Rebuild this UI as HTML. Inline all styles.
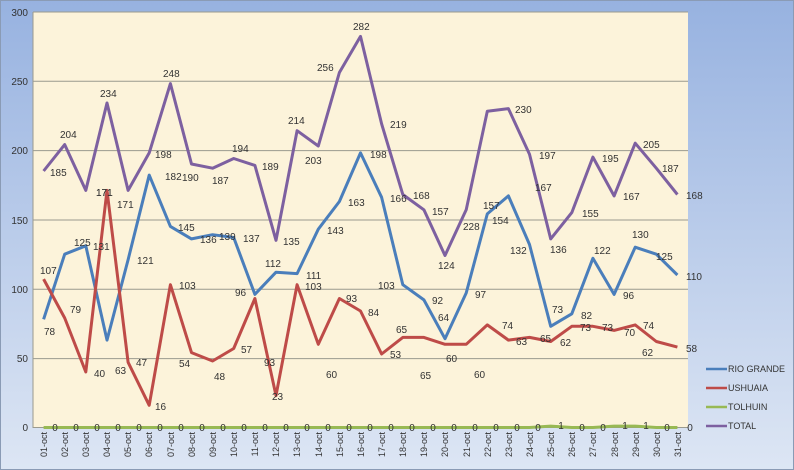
<!DOCTYPE html>
<html><head><meta charset="utf-8"><style>
html,body{margin:0;padding:0;width:794px;height:470px;overflow:hidden}
svg{display:block}
text{font-family:"Liberation Sans",sans-serif}
</style></head><body>
<svg width="794" height="470" viewBox="0 0 794 470" xmlns="http://www.w3.org/2000/svg">
<defs>
<linearGradient id="bg" x1="0" y1="0" x2="0" y2="1">
<stop offset="0" stop-color="#97b2e0"/><stop offset="1" stop-color="#dde6f4"/>
</linearGradient>
</defs>
<rect x="0" y="0" width="794" height="470" fill="url(#bg)"/>
<rect x="0.5" y="0.5" width="793" height="469" fill="none" stroke="#8a9bb5"/>
<rect x="33" y="12" width="655" height="416" fill="#fcf3da"/>
<g stroke="#9a9a8e" stroke-width="1">
<line x1="33" y1="12" x2="688" y2="12"/>
<line x1="33" y1="81.3" x2="688" y2="81.3"/>
<line x1="33" y1="150.6" x2="688" y2="150.6"/>
<line x1="33" y1="220" x2="688" y2="220"/>
<line x1="33" y1="289.3" x2="688" y2="289.3"/>
<line x1="33" y1="358.6" x2="688" y2="358.6"/>
<line x1="33" y1="427.5" x2="688" y2="427.5"/>
<line x1="33" y1="12" x2="33" y2="428"/>
</g>
<g font-size="10" fill="#333" text-anchor="end">
<text x="28" y="16">300</text><text x="28" y="85">250</text><text x="28" y="154">200</text>
<text x="28" y="224">150</text><text x="28" y="293">100</text><text x="28" y="362">50</text><text x="28" y="431">0</text>
</g>
<g fill="none" stroke-width="3" stroke-linejoin="round">
<polyline stroke="#4a7ebb" points="43.6,319.3 64.7,254.2 85.8,245.8 107,340.1 128.1,259.7 149.2,175.1 170.4,226.4 191.5,238.9 212.6,234.7 233.7,237.5 254.9,294.4 276,272.2 297.1,273.6 318.3,229.2 339.4,201.5 360.5,152.9 381.6,197.3 402.8,284.7 423.9,299.9 445,338.7 466.2,293 487.3,213.9 508.4,195.9 529.5,244.5 550.7,326.3 571.8,313.8 592.9,258.3 614.1,294.4 635.2,247.2 656.3,254.2 677.4,275"/>
<polyline stroke="#be4b48" points="43.6,279.1 64.7,318 85.8,372 107,190.4 128.1,362.3 149.2,405.3 170.4,284.7 191.5,352.6 212.6,361 233.7,348.5 254.9,298.5 276,395.6 297.1,284.7 318.3,344.3 339.4,298.5 360.5,311 381.6,354 402.8,337.4 423.9,337.4 445,344.3 466.2,344.3 487.3,324.9 508.4,340.1 529.5,337.4 550.7,341.5 571.8,326.3 592.9,326.3 614.1,330.4 635.2,324.9 656.3,341.5 677.4,347.1"/>
<polyline stroke="#98b954" points="43.6,427.5 64.7,427.5 85.8,427.5 107,427.5 128.1,427.5 149.2,427.5 170.4,427.5 191.5,427.5 212.6,427.5 233.7,427.5 254.9,427.5 276,427.5 297.1,427.5 318.3,427.5 339.4,427.5 360.5,427.5 381.6,427.5 402.8,427.5 423.9,427.5 445,427.5 466.2,427.5 487.3,427.5 508.4,427.5 529.5,427.5 550.7,426.1 571.8,427.5 592.9,427.5 614.1,426.1 635.2,426.1 656.3,427.5 677.4,427.5"/>
<polyline stroke="#7d60a0" points="43.6,171 64.7,144.6 85.8,190.4 107,103 128.1,190.4 149.2,152.9 170.4,83.6 191.5,164 212.6,168.2 233.7,158.5 254.9,165.4 276,240.3 297.1,130.7 318.3,146 339.4,72.5 360.5,36.4 381.6,123.8 402.8,194.5 423.9,209.8 445,255.5 466.2,209.8 487.3,111.3 508.4,108.6 529.5,154.3 550.7,238.9 571.8,212.6 592.9,157.1 614.1,195.9 635.2,143.2 656.3,168.2 677.4,194.5"/>
</g>
<g font-size="10" fill="#333">
<text x="50" y="176">185</text><text x="60" y="138">204</text><text x="96" y="196">171</text><text x="100" y="97">234</text>
<text x="117" y="208">171</text><text x="155" y="158">198</text><text x="163" y="77">248</text><text x="182" y="181">190</text>
<text x="212" y="184">187</text><text x="232" y="152">194</text><text x="262" y="170">189</text><text x="283" y="245">135</text>
<text x="288" y="124">214</text><text x="305" y="164">203</text><text x="317" y="71">256</text><text x="353" y="30">282</text>
<text x="390" y="128">219</text><text x="413" y="199">168</text><text x="432" y="215">157</text><text x="438" y="269">124</text>
<text x="463" y="230">228</text><text x="515" y="113">230</text><text x="539" y="159">197</text><text x="550" y="253">136</text>
<text x="582" y="217">155</text><text x="602" y="162">195</text><text x="623" y="200">167</text><text x="643" y="148">205</text>
<text x="662" y="172">187</text><text x="686" y="199">168</text>
<text x="44" y="335">78</text><text x="74" y="246">125</text><text x="93" y="250">131</text><text x="115" y="374">63</text>
<text x="137" y="264">121</text><text x="165" y="180">182</text><text x="178" y="231">145</text><text x="200" y="243">136</text>
<text x="219" y="240">139</text><text x="243" y="242">137</text><text x="235" y="296">96</text><text x="265" y="267">112</text>
<text x="306" y="279">111</text><text x="327" y="234">143</text><text x="348" y="206">163</text><text x="370" y="158">198</text>
<text x="390" y="202">166</text><text x="378" y="289">103</text><text x="432" y="304">92</text><text x="438" y="321">64</text>
<text x="475" y="298">97</text><text x="483" y="209">157</text><text x="492" y="224">154</text><text x="535" y="191">167</text>
<text x="510" y="254">132</text><text x="552" y="313">73</text><text x="581" y="319">82</text><text x="594" y="254">122</text>
<text x="623" y="299">96</text><text x="632" y="238">130</text><text x="656" y="260">125</text><text x="686" y="280">110</text>
<text x="40" y="274">107</text><text x="70" y="313">79</text><text x="94" y="377">40</text><text x="96" y="196">171</text>
<text x="136" y="366">47</text><text x="155" y="410">16</text><text x="179" y="289">103</text><text x="179" y="367">54</text>
<text x="214" y="380">48</text><text x="241" y="353">57</text><text x="264" y="366">93</text><text x="272" y="400">23</text>
<text x="305" y="290">103</text><text x="326" y="378">60</text><text x="346" y="302">93</text><text x="368" y="316">84</text>
<text x="390" y="358">53</text><text x="396" y="333">65</text><text x="420" y="379">65</text><text x="446" y="362">60</text>
<text x="474" y="378">60</text><text x="502" y="329">74</text><text x="516" y="345">63</text><text x="540" y="342">65</text>
<text x="560" y="346">62</text><text x="580" y="331">73</text><text x="602" y="331">73</text><text x="624" y="336">70</text>
<text x="643" y="329">74</text><text x="642" y="356">62</text><text x="686" y="352">58</text>
</g>
<g font-size="10" fill="#333" text-anchor="middle">
<text x="55" y="431">0</text><text x="76" y="431">0</text><text x="97" y="431">0</text><text x="118" y="431">0</text>
<text x="139" y="431">0</text><text x="160" y="431">0</text><text x="181" y="431">0</text><text x="202" y="431">0</text>
<text x="223" y="431">0</text><text x="244" y="431">0</text><text x="265" y="431">0</text><text x="286" y="431">0</text>
<text x="307" y="431">0</text><text x="328" y="431">0</text><text x="349" y="431">0</text><text x="370" y="431">0</text>
<text x="391" y="431">0</text><text x="412" y="431">0</text><text x="433" y="431">0</text><text x="454" y="431">0</text>
<text x="475" y="431">0</text><text x="496" y="431">0</text><text x="517" y="431">0</text><text x="538" y="431">0</text>
<text x="561" y="429">1</text><text x="582" y="431">0</text><text x="603" y="431">0</text><text x="625" y="429">1</text>
<text x="646" y="429">1</text><text x="667" y="431">0</text><text x="690" y="431">0</text>
</g>
<g font-size="9" fill="#333" text-anchor="end">
<text transform="translate(47,432) rotate(-90)">01-oct</text><text transform="translate(68,432) rotate(-90)">02-oct</text>
<text transform="translate(89,432) rotate(-90)">03-oct</text><text transform="translate(110,432) rotate(-90)">04-oct</text>
<text transform="translate(131,432) rotate(-90)">05-oct</text><text transform="translate(152,432) rotate(-90)">06-oct</text>
<text transform="translate(174,432) rotate(-90)">07-oct</text><text transform="translate(195,432) rotate(-90)">08-oct</text>
<text transform="translate(216,432) rotate(-90)">09-oct</text><text transform="translate(237,432) rotate(-90)">10-oct</text>
<text transform="translate(258,432) rotate(-90)">11-oct</text><text transform="translate(279,432) rotate(-90)">12-oct</text>
<text transform="translate(300,432) rotate(-90)">13-oct</text><text transform="translate(322,432) rotate(-90)">14-oct</text>
<text transform="translate(343,432) rotate(-90)">15-oct</text><text transform="translate(364,432) rotate(-90)">16-oct</text>
<text transform="translate(385,432) rotate(-90)">17-oct</text><text transform="translate(406,432) rotate(-90)">18-oct</text>
<text transform="translate(427,432) rotate(-90)">19-oct</text><text transform="translate(448,432) rotate(-90)">20-oct</text>
<text transform="translate(470,432) rotate(-90)">21-oct</text><text transform="translate(491,432) rotate(-90)">22-oct</text>
<text transform="translate(512,432) rotate(-90)">23-oct</text><text transform="translate(533,432) rotate(-90)">24-oct</text>
<text transform="translate(554,432) rotate(-90)">25-oct</text><text transform="translate(575,432) rotate(-90)">26-oct</text>
<text transform="translate(596,432) rotate(-90)">27-oct</text><text transform="translate(618,432) rotate(-90)">28-oct</text>
<text transform="translate(639,432) rotate(-90)">29-oct</text><text transform="translate(660,432) rotate(-90)">30-oct</text>
<text transform="translate(681,432) rotate(-90)">31-oct</text>
</g>
<g stroke-width="2.5">
<line x1="706" y1="369" x2="727" y2="369" stroke="#4a7ebb"/>
<line x1="706" y1="388" x2="727" y2="388" stroke="#be4b48"/>
<line x1="706" y1="407" x2="727" y2="407" stroke="#98b954"/>
<line x1="706" y1="426" x2="727" y2="426" stroke="#7d60a0"/>
</g>
<g font-size="9" fill="#333">
<text x="728" y="372">RIO GRANDE</text><text x="728" y="391">USHUAIA</text>
<text x="728" y="410">TOLHUIN</text><text x="728" y="429">TOTAL</text>
</g>
</svg>
</body></html>
